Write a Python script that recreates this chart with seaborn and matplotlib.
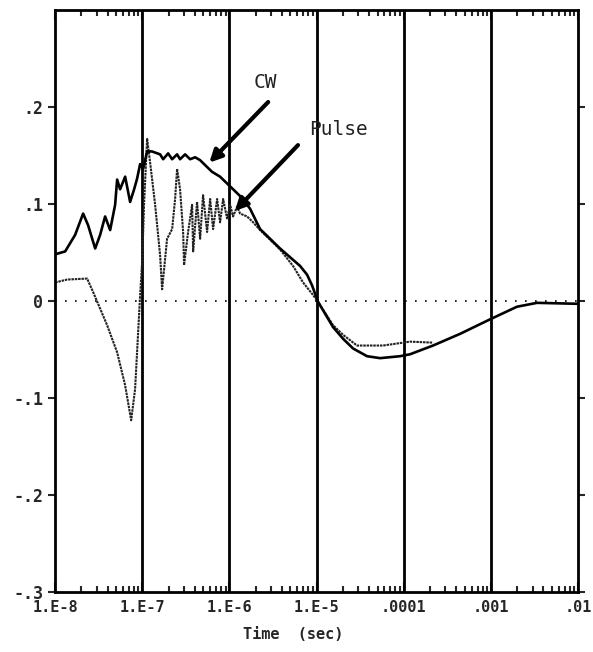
import numpy as np
import matplotlib
matplotlib.use("Agg")
import matplotlib.pyplot as plt
import seaborn as sns

# -------------------
# DATA (log10 of time in sec, response)
# -------------------
cw_log_t = [-8.000, -7.885, -7.771, -7.679, -7.622, -7.541, -7.484, -7.427, -7.369,
            -7.312, -7.289, -7.255, -7.197, -7.140, -7.094, -7.060, -7.025, -6.991,
            -6.945, -6.888, -6.796, -6.761, -6.704, -6.658, -6.601, -6.567, -6.509,
            -6.452, -6.394, -6.337, -6.280, -6.200, -6.108, -5.993, -5.878, -5.764,
            -5.649, -5.534, -5.420, -5.305, -5.190, -5.110, -5.053, -4.984, -4.812,
            -4.697, -4.583, -4.422, -4.273, -4.044, -3.929, -3.665, -3.356, -3.011,
            -2.702, -2.472, -2.000]
cw_resp = [0.048, 0.051, 0.068, 0.090, 0.078, 0.054, 0.068, 0.087, 0.073,
           0.099, 0.125, 0.115, 0.128, 0.102, 0.115, 0.126, 0.141, 0.136,
           0.154, 0.154, 0.151, 0.146, 0.152, 0.146, 0.151, 0.146, 0.151,
           0.146, 0.148, 0.145, 0.140, 0.133, 0.128, 0.118, 0.108, 0.095,
           0.074, 0.064, 0.054, 0.045, 0.036, 0.027, 0.016, -0.001, -0.027,
           -0.039, -0.049, -0.057, -0.059, -0.057, -0.055, -0.046, -0.034, -0.019,
           -0.006, -0.002, -0.003]

pulse_log_t = [-8.000, -7.862, -7.633, -7.564, -7.404, -7.289, -7.197, -7.128, -7.083,
               -7.025, -7.002, -6.979, -6.945, -6.911, -6.853, -6.796, -6.773, -6.716,
               -6.658, -6.624, -6.601, -6.567, -6.532, -6.521, -6.475, -6.429, -6.417,
               -6.372, -6.337, -6.303, -6.257, -6.222, -6.188, -6.142, -6.108, -6.073,
               -6.028, -5.993, -5.959, -5.913, -5.878, -5.798, -5.729, -5.649, -5.534,
               -5.420, -5.271, -5.156, -5.041, -4.984, -4.812, -4.697, -4.537, -4.239,
               -3.929, -3.665]
pulse_resp = [0.019, 0.022, 0.023, 0.009, -0.025, -0.053, -0.087, -0.123, -0.091,
              0.006, 0.040, 0.102, 0.167, 0.143, 0.099, 0.047, 0.012, 0.064,
              0.074, 0.105, 0.136, 0.115, 0.071, 0.037, 0.071, 0.099, 0.051,
              0.102, 0.064, 0.109, 0.071, 0.105, 0.074, 0.105, 0.081, 0.105,
              0.085, 0.099, 0.087, 0.097, 0.090, 0.087, 0.081, 0.073, 0.063,
              0.053, 0.036, 0.019, 0.006, -0.001, -0.025, -0.035, -0.046, -0.046,
              -0.042, -0.043]

x_ticks = [1e-8, 1e-7, 1e-6, 1e-5, 1e-4, 1e-3, 1e-2]
x_tick_labels = ["1.E-8", "1.E-7", "1.E-6", "1.E-5", ".0001", ".001", ".01"]
y_ticks = [-0.3, -0.2, -0.1, 0.0, 0.1, 0.2]
y_tick_labels = ["-.3", "-.2", "-.1", "0", ".1", ".2"]

# -------------------
# PLOT
# -------------------
sns.set_style("white")
plt.rcParams['font.family'] = ['DejaVu Sans Mono']

fig = plt.figure(figsize=(5.93, 6.52), dpi=100)
ax = fig.add_axes([0.093, 0.092, 0.882, 0.893])

cw_t = 10.0 ** np.array(cw_log_t)
pulse_t = 10.0 ** np.array(pulse_log_t)

sns.lineplot(x=pulse_t, y=pulse_resp, ax=ax, sort=False, estimator=None,
             color="#222222", lw=1.5, linestyle=(0, (1.2, 0.4)))
sns.lineplot(x=cw_t, y=cw_resp, ax=ax, sort=False, estimator=None,
             color="black", lw=1.9)

ax.set_xscale("log")
ax.set_xlim(1e-8, 1e-2)
ax.set_ylim(-0.3, 0.3)

# decade grid lines and zero line
for xt in x_ticks[1:-1]:
    ax.axvline(xt, color="black", lw=2.0, zorder=1)
ax.axhline(0, color="black", lw=1.2, linestyle=(0, (1, 5)), zorder=1)

ax.set_xticks(x_ticks)
ax.set_xticklabels(x_tick_labels, fontsize=11, fontweight="bold")
ax.set_yticks(y_ticks)
ax.set_yticklabels(y_tick_labels, fontsize=12, fontweight="bold")

ax.tick_params(axis="x", which="both", direction="in", top=True, bottom=True,
               width=1.5, pad=6)
ax.tick_params(axis="x", which="major", length=7)
ax.tick_params(axis="x", which="minor", length=4)
ax.tick_params(axis="y", which="major", direction="out", left=True, right=True,
               length=5, width=1.5)

for s in ax.spines.values():
    s.set_color("black")
    s.set_linewidth(2.0)

ax.set_xlabel("Time  (sec)", fontsize=11, fontweight="bold")
ax.xaxis.set_label_coords(0.455, -0.06)

# labels with arrows
arrow = dict(arrowstyle="-|>", lw=3.0, color="black", mutation_scale=18)
ax.annotate("", xy=(0.291, 0.734), xytext=(0.411, 0.845),
            xycoords="axes fraction", arrowprops=arrow)
ax.annotate("", xy=(0.340, 0.651), xytext=(0.468, 0.771),
            xycoords="axes fraction", arrowprops=arrow)
ax.text(0.402, 0.875, "CW", transform=ax.transAxes, fontsize=14,
        ha="center", va="center", color="#222222")
ax.text(0.541, 0.794, "Pulse", transform=ax.transAxes, fontsize=14,
        ha="center", va="center", color="#222222")

fig.savefig("out.png", dpi=100, facecolor="white")
